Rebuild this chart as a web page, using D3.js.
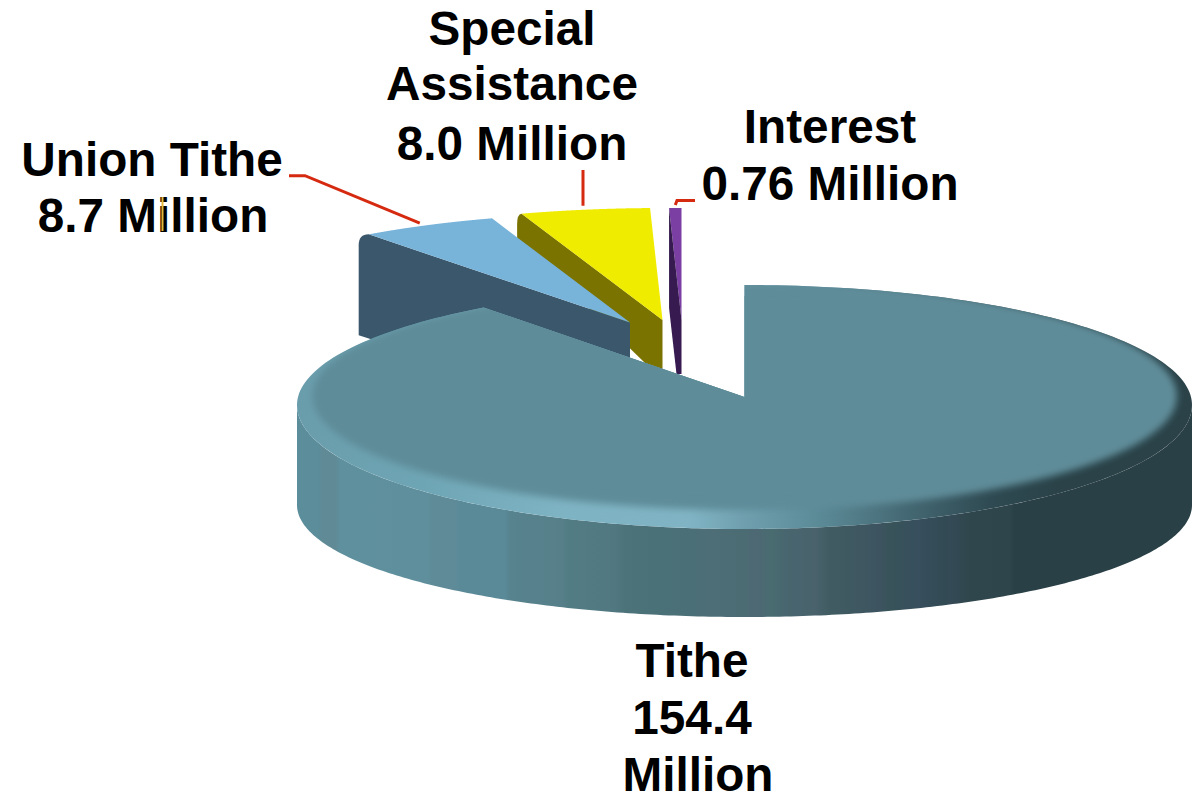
<!DOCTYPE html>
<html>
<head>
<meta charset="utf-8">
<title>Tithe pie</title>
<script src="https://cdn.jsdelivr.net/npm/d3@7"></script>
<style>
  html, body { margin: 0; padding: 0; background: #fff; }
  text { font-family: "Liberation Sans", Arial, sans-serif; font-weight: 700; fill: #000; }
</style>
</head>
<body>
<div id="chart"></div>
<script>
// Values, in millions
const categories = ["Tithe", "Union Tithe", "Special Assistance", "Interest"];
const values = [154.4, 8.7, 8.0, 0.76];
const labelLines = [
  ["Tithe", "154.4", "Million"],
  ["Union Tithe", "8.7 Million"],
  ["Special", "Assistance", "8.0 Million"],
  ["Interest", "0.76 Million"],
];

// Layout, one entry per slice
const apexes = [[744.5, 397], [630, 322.5], [662.5, 320], [681.5, 320]];
const radii = [1, 0.98, 1, 1];
const topColors = ["#5f8c99", "#78b3da", "#f0ec00", "#7b3fa3"];
const wallColors = ["none", "#3a576b", "#7a7300", "#371a4f"];
// wall outline: bx = bulge left of the corner, by = end of the rounding, drop = left edge length,
// lowDx / low = foot of the wall under the apex
const walls = [
  null,
  { bx: -10, by: 11, drop: 101, lowDx: 0, low: 100 },
  { bx: -4.5, by: 11, drop: 25, lowDx: 0, low: 60 },
  { bx: 0, by: 0, drop: 100, lowDx: -5, low: 54 },
];
const labelX = [[692, 692, 698], [152, 153], [512, 512, 512], [830, 830]];
const labelY = [[677, 734, 791], [176, 232], [45, 100, 160], [143, 200]];
const leaders = [
  null,
  { gap: [-8, -2], elbow: [305, 175.7], end: [289, 175.7] },
  { gap: [-2, -4], elbow: [583, 170], end: [583, 170] },
  { gap: [0, -3], elbow: [677, 200.5], end: [695, 200.5] },
];

const width = 1192, height = 796;
const rx = 447.5, ryBack = 112, ryRimBack = 120, ryRimFront = 124, rimDrop = 8, ryBase = 112, baseDrop = 108;
// perspective moves the cut of the big slice a little from its true angle
const cutNudge = 0.016;

const svg = d3.select("#chart").append("svg")
  .attr("width", width).attr("height", height)
  .style("display", "block");
const defs = svg.append("defs");

const slices = d3.pie().sort(null).value((d) => d)(values);

// unit circle -> screen offsets from a slice's apex
const sx = d3.scaleLinear().domain([-1, 1]).range([-rx, rx]);
const sy = d3.scaleLinear().domain([-1, 1]).range([-ryBack, ryBack]);
const outerAt = (r) => (a) => [sx(r * Math.sin(a)), sy(r * -Math.cos(a))];

const line = d3.line();
const arcPoints = (a0, a1, fn) => d3.range(0, 241).map((i) => fn(a0 + ((a1 - a0) * i) / 240));

// main slice has a rim ellipse dropped a little below its apex
const rimPoint = (a) => {
  const c = -Math.cos(a);
  return [sx(Math.sin(a)), rimDrop + (c > 0 ? ryRimFront : ryRimBack) * c];
};
const basePoint = (a) => [sx(Math.sin(a)), baseDrop + ryBase * -Math.cos(a)];

function gradient(id, stops) {
  const g = defs.append("linearGradient").attr("id", id)
    .attr("gradientUnits", "userSpaceOnUse")
    .attr("x1", -rx).attr("x2", rx).attr("y1", 0).attr("y2", 0);
  stops.forEach((s) => g.append("stop").attr("offset", (s[0] - (apexes[0][0] - rx)) / (2 * rx)).attr("stop-color", s[1]));
}

// Banded side of the big slice
gradient("wallFill", [
  [297, "#5b8d9b"], [318, "#5b8d9b"], [322, "#608a95"], [335, "#608a95"], [340, "#5f909d"],
  [428, "#5f8f9c"], [432, "#5f8b98"], [455, "#5f8b98"], [460, "#5a8a98"], [505, "#5a8a98"],
  [510, "#57838e"], [562, "#567f89"], [568, "#527c84"], [615, "#517880"], [625, "#4c737a"],
  [690, "#4a6f76"], [712, "#4e6e77"], [745, "#4b6c73"], [755, "#4e6874"], [772, "#486c70"],
  [785, "#48666f"], [815, "#49626c"], [830, "#405c62"], [880, "#3d5460"], [890, "#385359"],
  [918, "#374f5e"], [945, "#324a53"], [950, "#344a56"], [972, "#2f464c"], [1010, "#2e454c"],
  [1014, "#294046"], [1192, "#294046"],
]);
// Bevel round the top face
gradient("rimFill", [
  [297, "#6a9dac"], [420, "#6ea5b4"], [560, "#7eb3c3"], [690, "#80b4c4"], [745, "#6f9fae"],
  [820, "#5b8a97"], [900, "#466b76"], [990, "#2f4a52"], [1060, "#2a4248"], [1192, "#2a4248"],
]);
defs.append("filter").attr("id", "soft")
  .attr("x", "-5%").attr("y", "-5%").attr("width", "110%").attr("height", "110%")
  .append("feGaussianBlur").attr("stdDeviation", 3.5);

// Pulled-out slices go first, back to front, the big slice covers their feet
[3, 2, 1].forEach((i) => {
  const s = slices[i], w = walls[i], outer = outerAt(radii[i]);
  const g = svg.append("g").attr("transform", `translate(${apexes[i][0]},${apexes[i][1]})`);
  const [ox, oy] = outer(s.startAngle);

  const p = d3.path();
  p.moveTo(ox, oy);
  p.quadraticCurveTo(ox + w.bx, oy, ox + w.bx, oy + w.by);
  p.lineTo(ox + w.bx, oy + w.drop);
  p.lineTo(w.lowDx, w.low);
  p.lineTo(0, w.low);
  p.lineTo(0, 0);
  p.closePath();

  const face = line([[0, 0], ...arcPoints(s.startAngle, s.endAngle, outer)]) + "Z";
  if (i === 3) {
    // sliver: top face behind, dark cut face in front
    g.append("path").attr("d", face).attr("fill", topColors[i]);
    g.append("path").attr("d", p.toString()).attr("fill", wallColors[i]);
  } else {
    g.append("path").attr("d", p.toString()).attr("fill", wallColors[i]);
    g.append("path").attr("d", face).attr("fill", topColors[i]);
  }
});

// Big slice
const main = slices[0];
const mainEnd = main.endAngle + cutNudge;
const mainG = svg.append("g").attr("transform", `translate(${apexes[0][0]},${apexes[0][1]})`);

const frontA0 = Math.PI / 2, frontA1 = (3 * Math.PI) / 2;
mainG.append("path")
  .attr("d", line([...arcPoints(frontA0, frontA1, rimPoint), ...arcPoints(frontA1, frontA0, basePoint)]) + "Z")
  .attr("fill", "url(#wallFill)");

const topPath = line([[0, 0], ...arcPoints(main.startAngle, mainEnd, rimPoint)]) + "Z";
defs.append("clipPath").attr("id", "topClip").append("path").attr("d", topPath);
mainG.append("path").attr("d", topPath).attr("fill", "url(#rimFill)");
const faceG = mainG.append("g").attr("clip-path", "url(#topClip)");
faceG.append("ellipse")
  .attr("cx", 0).attr("cy", -1)
  .attr("rx", rx - 15).attr("ry", 114)
  .attr("fill", topColors[0])
  .attr("filter", "url(#soft)");
// the blur must not soften the flat face near the cut
faceG.append("path")
  .attr("d", line([[0, 0], ...arcPoints(main.startAngle - 0.1, mainEnd + 0.1, (a) => [sx(Math.sin(a)) * 0.9, -1 + 100 * -Math.cos(a)])]) + "Z")
  .attr("fill", topColors[0]);

// Leader lines
leaders.forEach((l, i) => {
  if (!l) return;
  const s = slices[i];
  const [mx, my] = outerAt(radii[i])((s.startAngle + s.endAngle) / 2);
  const anchor = [apexes[i][0] + mx + l.gap[0], apexes[i][1] + my + l.gap[1]];
  svg.append("path")
    .attr("d", line([anchor, l.elbow, l.end]))
    .attr("fill", "none")
    .attr("stroke", "#d62a10")
    .attr("stroke-width", 3);
});

// Labels
labelLines.forEach((lines, i) => {
  lines.forEach((t, j) => {
    svg.append("text")
      .attr("x", labelX[i][j])
      .attr("y", labelY[i][j])
      .attr("text-anchor", "middle")
      .attr("font-size", 47.7)
      .text(t);
  });
});

// stray tick sitting on the "i" of Million in the original
svg.append("line")
  .attr("x1", 162.5).attr("x2", 162.5)
  .attr("y1", 197).attr("y2", 231)
  .attr("stroke", "#e8b83a").attr("stroke-width", 2);
</script>
</body>
</html>
